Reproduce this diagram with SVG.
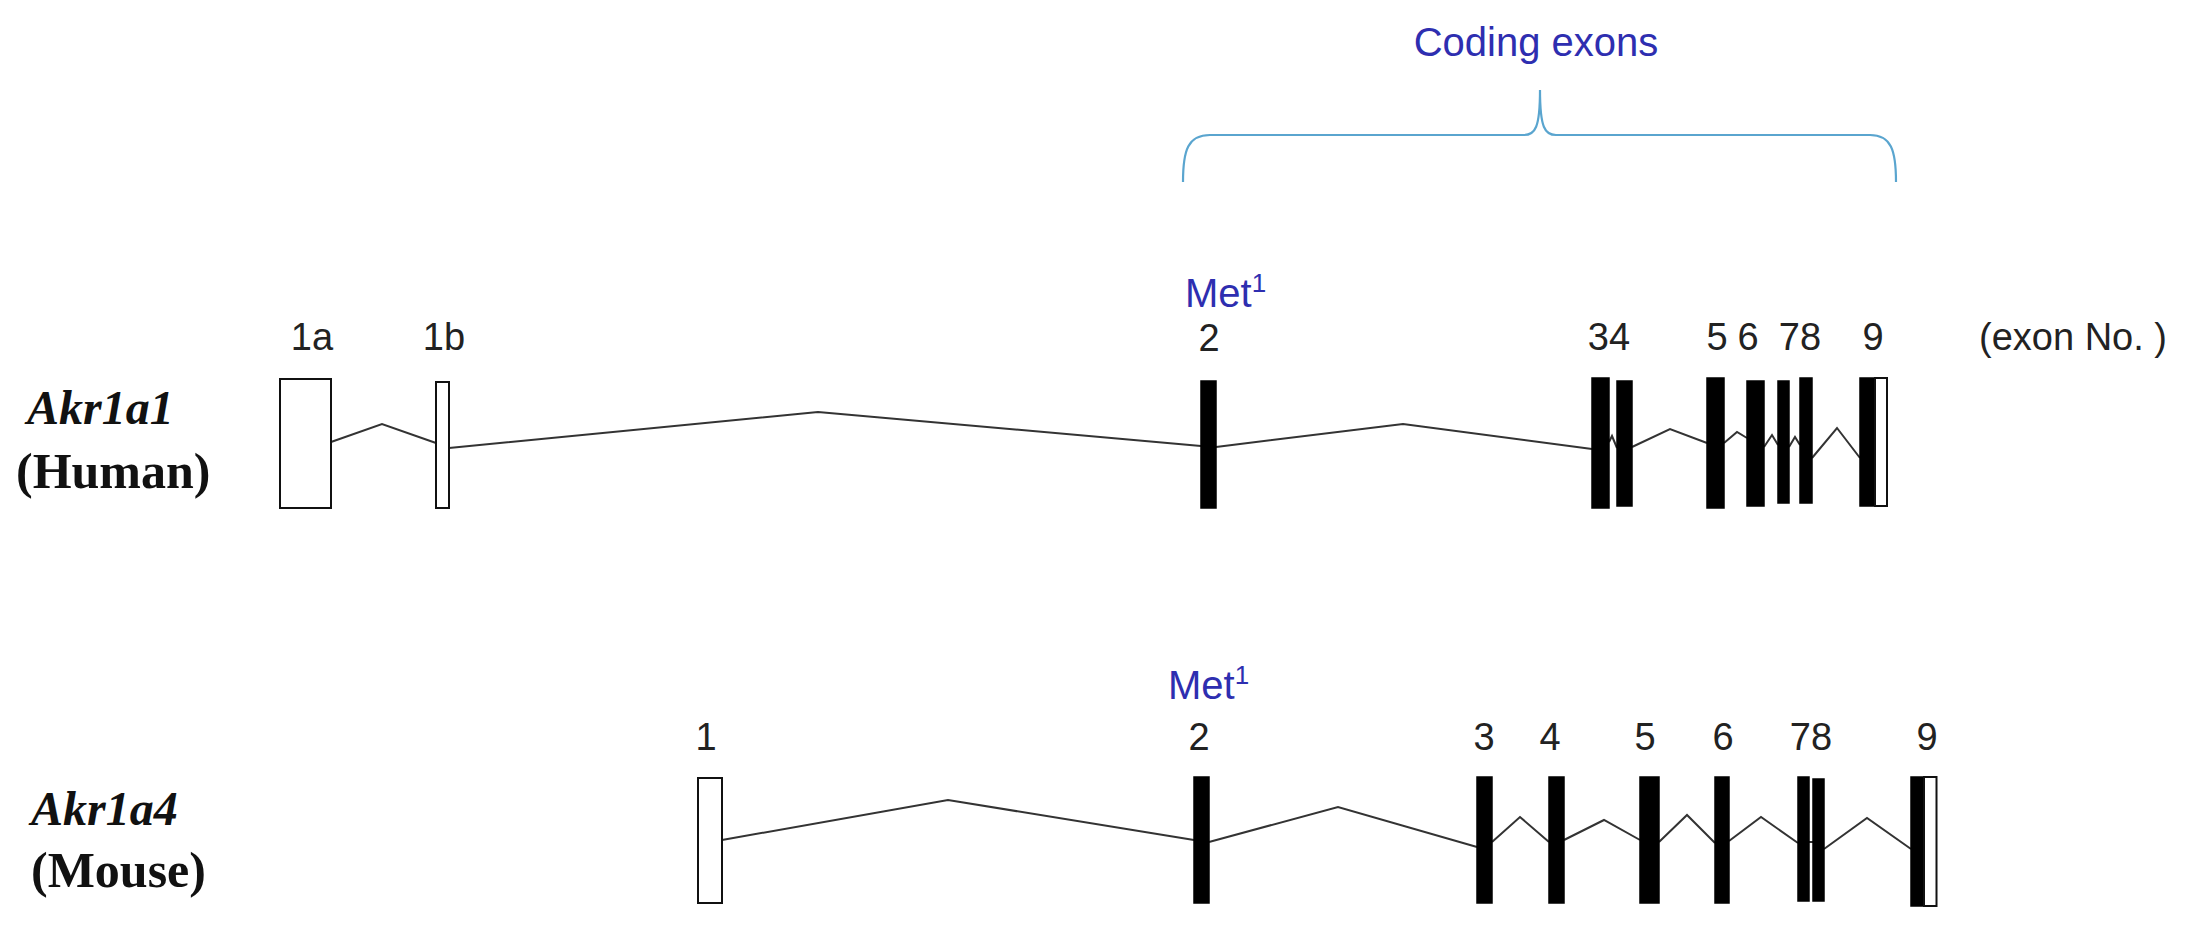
<svg xmlns="http://www.w3.org/2000/svg" width="2188" height="926" viewBox="0 0 2188 926">
<style>
.lbl{font-family:"Liberation Sans",Arial,sans-serif;font-size:38px;fill:#222;text-anchor:middle}
.blue{font-family:"Liberation Sans",Arial,sans-serif;font-size:40px;fill:#2e2eb0}
.sup{font-size:26px}
.gene{font-family:"Liberation Serif","Times New Roman",serif;font-size:50px;font-weight:bold;fill:#111}
.it{font-style:italic;font-size:48px}
.cds{fill:#000;stroke:#000;stroke-width:1.5}
.utr{fill:#fff;stroke:#111;stroke-width:2}
.intron{fill:none;stroke:#333;stroke-width:2;stroke-linejoin:miter}
.brace{fill:none;stroke:#5aa5cf;stroke-width:2.2}
</style>
<rect width="2188" height="926" fill="#fff"/>

<g id="coding-exons">
<text class="blue" x="1536" y="56" text-anchor="middle">Coding exons</text>
<path class="brace" d="M1183,182 C1183,150 1188,135 1210,135 H1524 C1535,135 1540,128 1540,90 C1540,128 1545,135 1556,135 H1870 C1891,135 1896,150 1896,182"/>
</g>

<g id="connectors">
<polyline class="intron" points="331,442 382,424 436,443"/>
<polyline class="intron" points="449,448 818,412 1201,446"/>
<polyline class="intron" points="1216,447 1403,424 1592,449"/>
<polyline class="intron" points="1609,442 1612,436 1617,448"/>
<polyline class="intron" points="1632,447 1670,429 1707,443"/>
<polyline class="intron" points="1724,443 1737,432 1747,438"/>
<polyline class="intron" points="1764,447 1772,435 1778,445"/>
<polyline class="intron" points="1789,447 1795,437 1800,445"/>
<polyline class="intron" points="1812,458 1837,428 1860,458"/>

<polyline class="intron" points="722,840 948,800 1194,840"/>
<polyline class="intron" points="1209,842 1338,807 1477,847"/>
<polyline class="intron" points="1492,842 1520,817 1549,842"/>
<polyline class="intron" points="1564,840 1604,820 1640,840"/>
<polyline class="intron" points="1659,842 1687,815 1715,843"/>
<polyline class="intron" points="1729,841 1761,817 1798,843"/>
<polyline class="intron" points="1809,842 1813,842"/>
<polyline class="intron" points="1824,849 1867,818 1911,849"/>
</g>

<g id="human-label">
<text class="gene it" x="27" y="424">Akr1a1</text>
<text class="gene" x="16" y="488">(Human)</text>
</g>
<g id="mouse-label">
<text class="gene it" x="31" y="825">Akr1a4</text>
<text class="gene" x="31" y="887">(Mouse)</text>
</g>

<g id="human-exon-1a"><rect class="utr" x="280" y="379" width="51" height="129"/><text class="lbl" x="312" y="350">1a</text></g>
<g id="human-exon-1b"><rect class="utr" x="436" y="382" width="13" height="126"/><text class="lbl" x="444" y="350">1b</text></g>
<g id="human-exon-2"><rect class="cds" x="1201" y="381" width="15" height="127"/><text class="lbl" x="1209" y="351">2</text>
<text class="blue" x="1185" y="307">Met<tspan class="sup" dy="-15">1</tspan></text></g>
<g id="human-exon-3"><rect class="cds" x="1592" y="378" width="17" height="130"/></g>
<g id="human-exon-4"><rect class="cds" x="1617" y="381" width="15" height="125"/></g>
<text class="lbl" x="1609" y="350">34</text>
<g id="human-exon-5"><rect class="cds" x="1707" y="378" width="17" height="130"/><text class="lbl" x="1717" y="350">5</text></g>
<g id="human-exon-6"><rect class="cds" x="1747" y="381" width="17" height="125"/><text class="lbl" x="1748" y="350">6</text></g>
<g id="human-exon-7"><rect class="cds" x="1778" y="381" width="11" height="122"/></g>
<g id="human-exon-8"><rect class="cds" x="1800" y="378" width="12" height="125"/></g>
<text class="lbl" x="1800" y="350">78</text>
<g id="human-exon-9"><rect class="cds" x="1860" y="378" width="15" height="128"/><rect class="utr" x="1875" y="378" width="12" height="128"/><text class="lbl" x="1873" y="350">9</text></g>
<text class="lbl" x="2073" y="350">(exon No. )</text>

<g id="mouse-exon-1"><rect class="utr" x="698" y="778" width="24" height="125"/><text class="lbl" x="706" y="750">1</text></g>
<g id="mouse-exon-2"><rect class="cds" x="1194" y="777" width="15" height="126"/><text class="lbl" x="1199" y="750">2</text>
<text class="blue" x="1168" y="699">Met<tspan class="sup" dy="-15">1</tspan></text></g>
<g id="mouse-exon-3"><rect class="cds" x="1477" y="777" width="15" height="126"/><text class="lbl" x="1484" y="750">3</text></g>
<g id="mouse-exon-4"><rect class="cds" x="1549" y="777" width="15" height="126"/><text class="lbl" x="1550" y="750">4</text></g>
<g id="mouse-exon-5"><rect class="cds" x="1640" y="777" width="19" height="126"/><text class="lbl" x="1645" y="750">5</text></g>
<g id="mouse-exon-6"><rect class="cds" x="1715" y="777" width="14" height="126"/><text class="lbl" x="1723" y="750">6</text></g>
<g id="mouse-exon-7"><rect class="cds" x="1798" y="777" width="11" height="124"/></g>
<g id="mouse-exon-8"><rect class="cds" x="1813" y="779" width="11" height="122"/></g>
<text class="lbl" x="1811" y="750">78</text>
<g id="mouse-exon-9"><rect class="cds" x="1911" y="777" width="13" height="129"/><rect class="utr" x="1924" y="777" width="12.5" height="129"/><text class="lbl" x="1927" y="750">9</text></g>
</svg>
